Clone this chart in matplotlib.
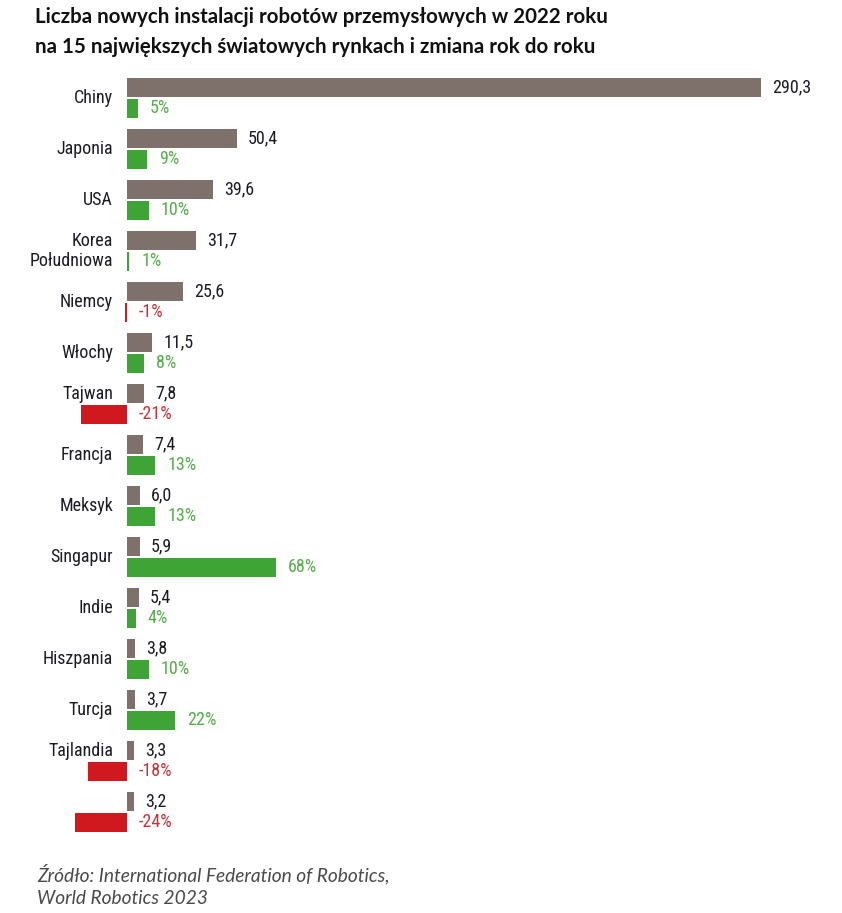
import matplotlib
matplotlib.use("Agg")
import matplotlib.pyplot as plt

# ---- data ----
countries = ["Chiny", "Japonia", "USA", "Korea\nPołudniowa", "Niemcy", "Włochy",
             "Tajwan", "Francja", "Meksyk", "Singapur", "Indie", "Hiszpania",
             "Turcja", "Tajlandia", ""]
installs = [290.3, 50.4, 39.6, 31.7, 25.6, 11.5, 7.8, 7.4, 6.0, 5.9, 5.4, 3.8, 3.7, 3.3, 3.2]
yoy_change = [5, 9, 10, 1, -1, 8, -21, 13, 13, 68, 4, 10, 22, -18, -24]

title = ("Liczba nowych instalacji robotów przemysłowych w 2022 roku\n"
         "na 15 największych światowych rynkach i zmiana rok do roku")
source = "Źródło: International Federation of Robotics,\nWorld Robotics 2023"

# ---- style ----
W, H = 842, 913
GREY = "#7e716c"
GREEN = "#3da435"
GREEN_TXT = "#55ad4a"
RED = "#d0191f"
RED_TXT = "#c9303a"
DARK = "#1b1b24"
COND = ["Roboto Condensed", "Liberation Sans Narrow", "Roboto", "DejaVu Sans"]
TITLEF = ["Lato", "Inter", "DejaVu Sans"]

fig = plt.figure(figsize=(W / 100, H / 100), dpi=100)
ax = fig.add_axes([0, 1 - 840 / H, 1, 770 / H])
ax.set_xlim(-127 / 2.184, (W - 127) / 2.184)
ax.set_ylim(14.549, -0.549)
ax.axis("off")

bh = 0.37
off = 0.2
ys = list(range(len(countries)))
ax.barh([y - off for y in ys], installs, height=bh, color=GREY)
ax.barh([y + off for y in ys], yoy_change, height=bh,
        color=[GREEN if v >= 0 else RED for v in yoy_change])

fs = 13
for y, name, v, c in zip(ys, countries, installs, yoy_change):
    ax.annotate(f"{v:.1f}".replace(".", ","), xy=(v, y - off), xytext=(11, 0),
                textcoords="offset pixels", ha="left", va="center",
                fontsize=fs, family=COND, color=DARK)
    ax.annotate(f"{c}%", xy=(max(c, 0), y + off), xytext=(12, 0),
                textcoords="offset pixels", ha="left", va="center",
                fontsize=fs, family=COND,
                color=GREEN_TXT if c >= 0 else RED_TXT)
    ly = y - off if c < -5 else y
    ax.annotate(name, xy=(0, ly), xytext=(-14, 0), textcoords="offset pixels",
                ha="right", va="center", fontsize=fs, family=COND, color=DARK,
                linespacing=1.1)

fig.text(35 / W, 1 - 7 / H, title, ha="left", va="top", fontsize=14.8,
         fontweight="bold", family=TITLEF, color="#111111", linespacing=1.6)
fig.text(37 / W, 1 - 864 / H, source, ha="left", va="top", fontsize=13.8,
         style="italic", family=TITLEF, color="#4a4a4a", linespacing=1.4)

fig.savefig("out.png", dpi=100)
